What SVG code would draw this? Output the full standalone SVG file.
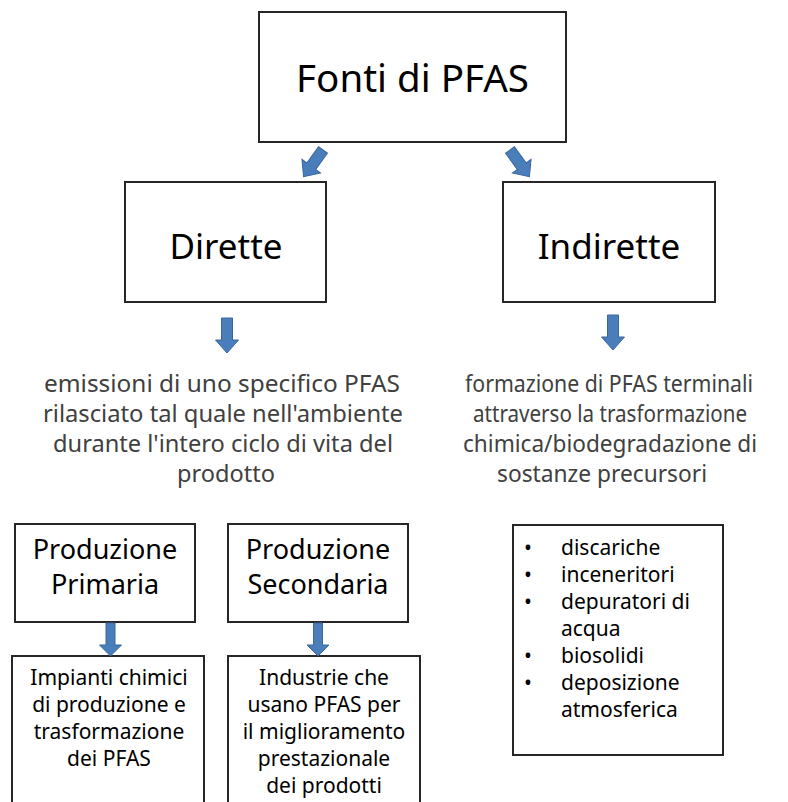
<svg xmlns="http://www.w3.org/2000/svg" width="788" height="802" viewBox="0 0 788 802">
<style>
.box{fill:#fff;stroke:#262626;stroke-width:2}
.t{font-family:"Noto Sans","Open Sans","DejaVu Sans",sans-serif;fill:#000;text-anchor:middle}
.m{font-family:"Noto Sans","Open Sans","DejaVu Sans",sans-serif;fill:#404040;text-anchor:middle;font-size:23px}
.b{font-family:"Noto Sans","Open Sans","DejaVu Sans",sans-serif;fill:#000;font-size:21px}
.arr{fill:#4a7ebb;stroke:#3a669c;stroke-width:1}
</style>
<rect width="788" height="802" fill="#fff"/>
<g id="fonti"><rect class="box" x="259" y="12" width="307" height="130"/><text class="t" x="412.5" y="92" font-size="38.5">Fonti di PFAS</text></g>
<g id="dirette"><rect class="box" x="125" y="182" width="201" height="120"/><text class="t" x="226" y="259" font-size="35">Dirette</text></g>
<g id="indirette"><rect class="box" x="503" y="182" width="212" height="120"/><text class="t" x="609" y="259" font-size="35">Indirette</text></g>
<g id="desc-dirette"><text class="m"><tspan x="222" y="392" textLength="356" lengthAdjust="spacingAndGlyphs">emissioni di uno specifico PFAS</tspan></text><text class="m"><tspan x="223" y="422" textLength="360" lengthAdjust="spacingAndGlyphs">rilasciato tal quale nell'ambiente</tspan></text><text class="m"><tspan x="223" y="452" textLength="340" lengthAdjust="spacingAndGlyphs">durante l'intero ciclo di vita del</tspan></text><text class="m"><tspan x="226" y="482" textLength="98" lengthAdjust="spacingAndGlyphs">prodotto</tspan></text></g>
<g id="desc-indirette"><text class="m"><tspan x="609" y="392" textLength="288" lengthAdjust="spacingAndGlyphs">formazione di PFAS terminali</tspan></text><text class="m"><tspan x="610" y="422" textLength="274" lengthAdjust="spacingAndGlyphs">attraverso la trasformazione</tspan></text><text class="m"><tspan x="610" y="452" textLength="294" lengthAdjust="spacingAndGlyphs">chimica/biodegradazione di</tspan></text><text class="m"><tspan x="602" y="482" textLength="210" lengthAdjust="spacingAndGlyphs">sostanze precursori</tspan></text></g>
<g id="primaria"><rect class="box" x="15" y="524" width="180" height="98"/><text class="t" font-size="27"><tspan x="105" y="559">Produzione</tspan><tspan x="105" y="594">Primaria</tspan></text></g>
<g id="secondaria"><rect class="box" x="228" y="524" width="180" height="98"/><text class="t" font-size="27"><tspan x="318" y="559">Produzione</tspan><tspan x="318" y="594">Secondaria</tspan></text></g>
<g id="impianti"><rect class="box" x="12" y="656" width="192" height="160"/><text class="t" font-size="21"><tspan x="109" y="685">Impianti chimici</tspan><tspan x="109" y="712">di produzione e</tspan><tspan x="109" y="739">trasformazione</tspan><tspan x="109" y="766">dei PFAS</tspan></text></g>
<g id="industrie"><rect class="box" x="228" y="656" width="192" height="160"/><text class="t" font-size="21"><tspan x="324" y="685">Industrie che</tspan><tspan x="324" y="712">usano PFAS per</tspan><tspan x="324" y="739">il miglioramento</tspan><tspan x="324" y="766">prestazionale</tspan><tspan x="324" y="793">dei prodotti</tspan></text></g>
<g id="elenco"><rect class="box" x="513" y="525" width="210" height="230"/>
<text class="b"><tspan x="524" y="555">•</tspan><tspan x="524" y="582">•</tspan><tspan x="524" y="609">•</tspan><tspan x="524" y="663">•</tspan><tspan x="524" y="690">•</tspan></text>
<text class="b"><tspan x="561" y="555">discariche</tspan><tspan x="561" y="582">inceneritori</tspan><tspan x="561" y="609">depuratori di</tspan><tspan x="561" y="636">acqua</tspan><tspan x="561" y="663">biosolidi</tspan><tspan x="561" y="690">deposizione</tspan><tspan x="561" y="717">atmosferica</tspan></text></g>
<g id="connectors">
<path class="arr" transform="translate(323,150) rotate(36)" d="M-5.5 0H5.5V20H11.5L0 33L-11.5 20H-5.5Z"/>
<path class="arr" transform="translate(510,150) rotate(-36)" d="M-5.5 0H5.5V20H11.5L0 33L-11.5 20H-5.5Z"/>
<path class="arr" transform="translate(227,318)" d="M-5.5 0H5.5V22H11.5L0 35L-11.5 22H-5.5Z"/>
<path class="arr" transform="translate(613,315)" d="M-5.5 0H5.5V22H11.5L0 35L-11.5 22H-5.5Z"/>
<path class="arr" transform="translate(110.5,623)" d="M-4.5 0H4.5V22H11L0 33L-11 22H-4.5Z"/>
<path class="arr" transform="translate(318,623)" d="M-4.5 0H4.5V22H11L0 33L-11 22H-4.5Z"/>
</g>
</svg>
